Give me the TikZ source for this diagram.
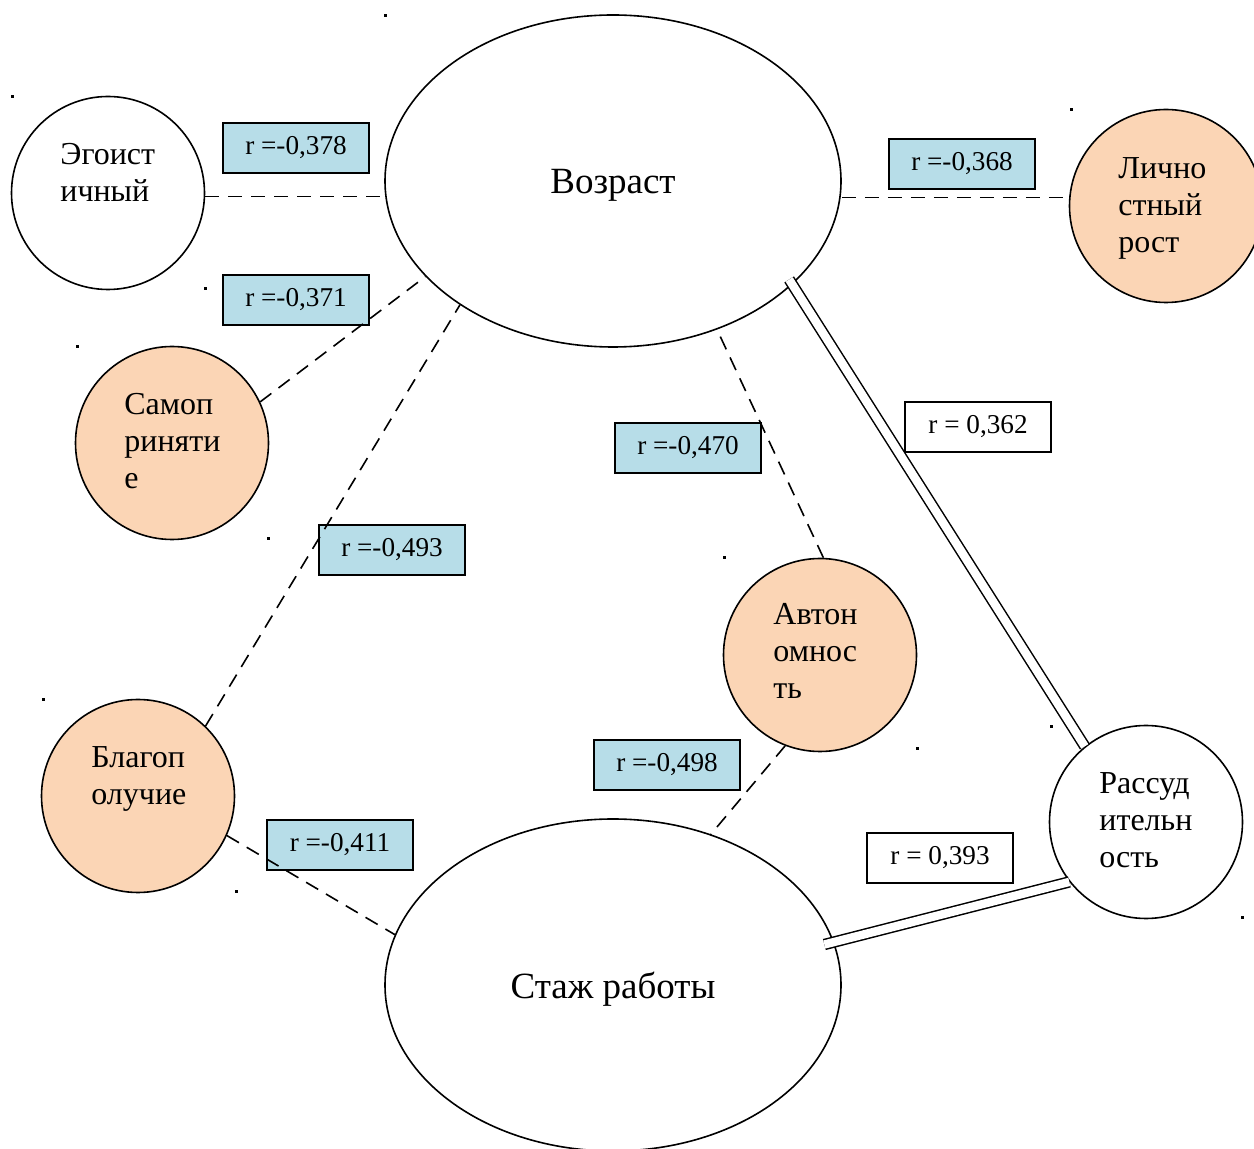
\documentclass[tikz,border=0pt]{standalone}
\usepackage{fontspec}
\setmainfont{Liberation Serif}
\usetikzlibrary{positioning,calc,shapes.geometric}

\definecolor{rblue}{RGB}{183,221,232}
\definecolor{peach}{RGB}{251,213,181}

\begin{document}
\begin{tikzpicture}[x={(0.5pt,0)}, y={(0,-0.5pt)},
  big/.style={ellipse,draw,line width=0.8pt,minimum width=228pt,minimum height=166pt,inner sep=0pt,
    text depth=0pt,font=\fontsize{18.5}{22}\selectfont},
  trait/.style={circle,draw,line width=0.8pt,minimum size=96.5pt,inner sep=0pt},
  traittxt/.style={anchor=north west,align=left,inner sep=0pt,font=\fontsize{16}{18.5}\selectfont},
  rbox/.style={rectangle,draw,line width=0.9pt,fill=rblue,minimum width=73pt,minimum height=25pt,
    inner sep=0pt,font=\fontsize{13.6}{15}\selectfont},
  rboxw/.style={rbox,fill=white},
  dashlink/.style={line width=0.8pt,dash pattern=on 7pt off 4.5pt},
  dbl/.style={line width=0.75pt,double,double distance=4.2pt}]
\useasboundingbox (0,0) rectangle (1254,1149);
\clip (0,0) rectangle (1254,1149);
% main ellipses
\node[big] (age) at (613,181) {Возраст};
\node[big] (staz) at (613,985) {Стаж работы};
% traits
\node[trait] (ego) at (108,193) {};
\node[trait,fill=peach] (lich) at (1166,206) {};
\node[trait,fill=peach] (samo) at (172,443) {};
\node[trait,fill=peach] (blago) at (138,796) {};
\node[trait,fill=peach] (avton) at (820,655) {};
\node[trait] (rassud) at (1146,822) {};
\node[traittxt] (ego-t) at (60,143) {Эгоист\\ичный};
\node[traittxt] (lich-t) at (1118,157) {Лично\\стный\\рост};
\node[traittxt] (samo-t) at (124,393) {Самоп\\риняти\\е};
\node[traittxt] (blago-t) at (91,746) {Благоп\\олучие};
\node[traittxt] (avton-t) at (773,603) {Автон\\омнос\\ть};
\node[traittxt] (rassud-t) at (1099,772) {Рассуд\\ительн\\ость};
% correlation boxes
\node[rbox] (r378) at (296,148) {r =-0,378};
\node[rbox] (r371) at (296,300) {r =-0,371};
\node[rbox] (r368) at (962,164) {r =-0,368};
\node[rboxw] (r362) at (978,427) {r = 0,362};
\node[rbox] (r470) at (688,448) {r =-0,470};
\node[rbox] (r493) at (392,550) {r =-0,493};
\node[rbox] (r498) at (667,765) {r =-0,498};
\node[rbox] (r411) at (340,845) {r =-0,411};
\node[rboxw] (r393) at (940,858) {r = 0,393};
% negative links
\draw[dashlink] (ego.-2) -- (ego.-2 -| age.west);
\draw[dashlink] (lich.175 -| age.east) -- (lich.175);
\draw[dashlink] (samo.25) -- (age.207);
\draw[dashlink] (blago.46) -- (age.219);
\draw[dashlink] (avton.88) -- (age.305);
\draw[dashlink] (avton.249) -- (staz.57);
\draw[dashlink] (blago.336) -- (staz.167);
% positive links
\draw[dbl,shorten <=-3pt] (age.330) -- (rassud.129);
\draw[dbl,shorten <=-5pt] (staz.11) -- (rassud.218);
% stray marks
\foreach \px/\py in {385/16,12/97,205/289,77/347,1071/110,268/539,724/558,43/700,917/749,1051/727,236/892,1242/917}
  \fill (\px-1.5,\py-1.5) rectangle (\px+1.5,\py+1.5);
\end{tikzpicture}
\end{document}
